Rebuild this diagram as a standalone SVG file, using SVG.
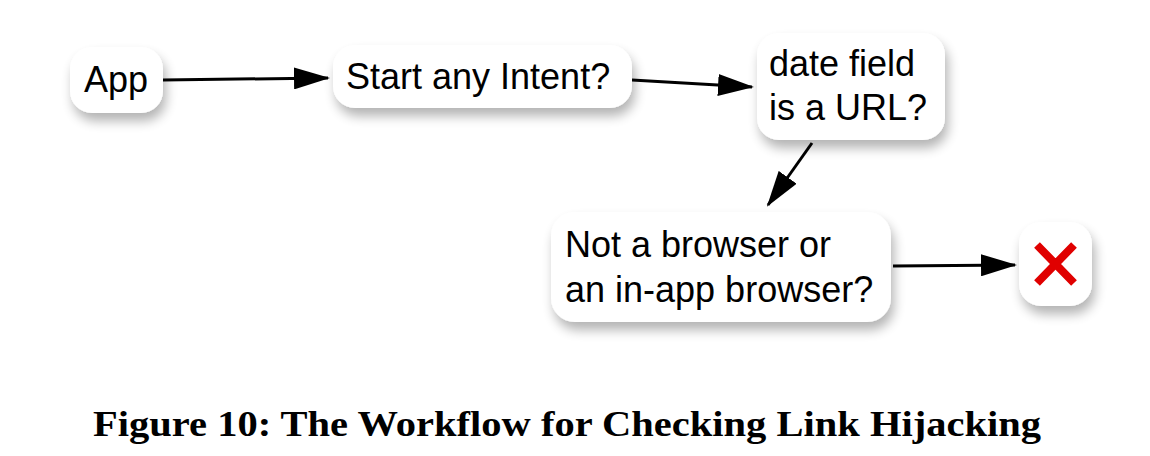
<svg xmlns="http://www.w3.org/2000/svg" width="1150" height="456" viewBox="0 0 1150 456">
<defs>
<filter id="sh" x="-30%" y="-30%" width="160%" height="180%">
<feGaussianBlur in="SourceAlpha" stdDeviation="6"/>
<feOffset dx="3" dy="8" result="b"/>
<feComponentTransfer><feFuncA type="linear" slope="0.3"/></feComponentTransfer>
<feMerge><feMergeNode/><feMergeNode in="SourceGraphic"/></feMerge>
</filter>
<marker id="ah" markerWidth="36" markerHeight="22" refX="34" refY="11" orient="auto" markerUnits="userSpaceOnUse">
<path d="M0,0 L36,11 L0,22 Z" fill="#000"/>
</marker>
<style>
.n{fill:#fff;filter:url(#sh)}
.t{font-family:"Liberation Sans",Arial,sans-serif;font-size:36px;fill:#000}
.c{stroke:#000;stroke-width:3;fill:none;marker-end:url(#ah)}
.cap{font-family:"Liberation Serif","Times New Roman",serif;font-weight:bold;font-size:35px;fill:#000}
</style>
</defs>
<rect width="1150" height="456" fill="#fff"/>
<g id="connectors">
<line class="c" x1="163" y1="80" x2="328" y2="78"/>
<line class="c" x1="632" y1="80" x2="752" y2="87"/>
<line class="c" x1="812" y1="143" x2="768" y2="205"/>
<line class="c" x1="893" y1="266" x2="1015" y2="265"/>
</g>
<g id="app">
<rect class="n" x="70" y="47" width="93" height="66" rx="22"/>
<text class="t" x="84" y="92">App</text>
</g>
<g id="start">
<rect class="n" x="333" y="45" width="299" height="63" rx="22"/>
<text class="t" x="346" y="89">Start any Intent?</text>
</g>
<g id="date">
<rect class="n" x="757" y="33" width="188" height="107" rx="22"/>
<text class="t" x="769" y="76">date field</text>
<text class="t" x="769" y="120">is a URL?</text>
</g>
<g id="browser">
<rect class="n" x="551" y="212" width="340" height="110" rx="24"/>
<text class="t" x="565" y="257">Not a browser or</text>
<text class="t" x="565" y="302">an in-app browser?</text>
</g>
<g id="fail">
<rect class="n" x="1019" y="222" width="73" height="84" rx="22"/>
<path d="M1037,245 L1074,283 M1074,245 L1037,283" stroke="#e00000" stroke-width="8"/>
</g>
<text class="cap" x="567" y="436" text-anchor="middle" textLength="948" lengthAdjust="spacingAndGlyphs">Figure 10: The Workflow for Checking Link Hijacking</text>
</svg>
